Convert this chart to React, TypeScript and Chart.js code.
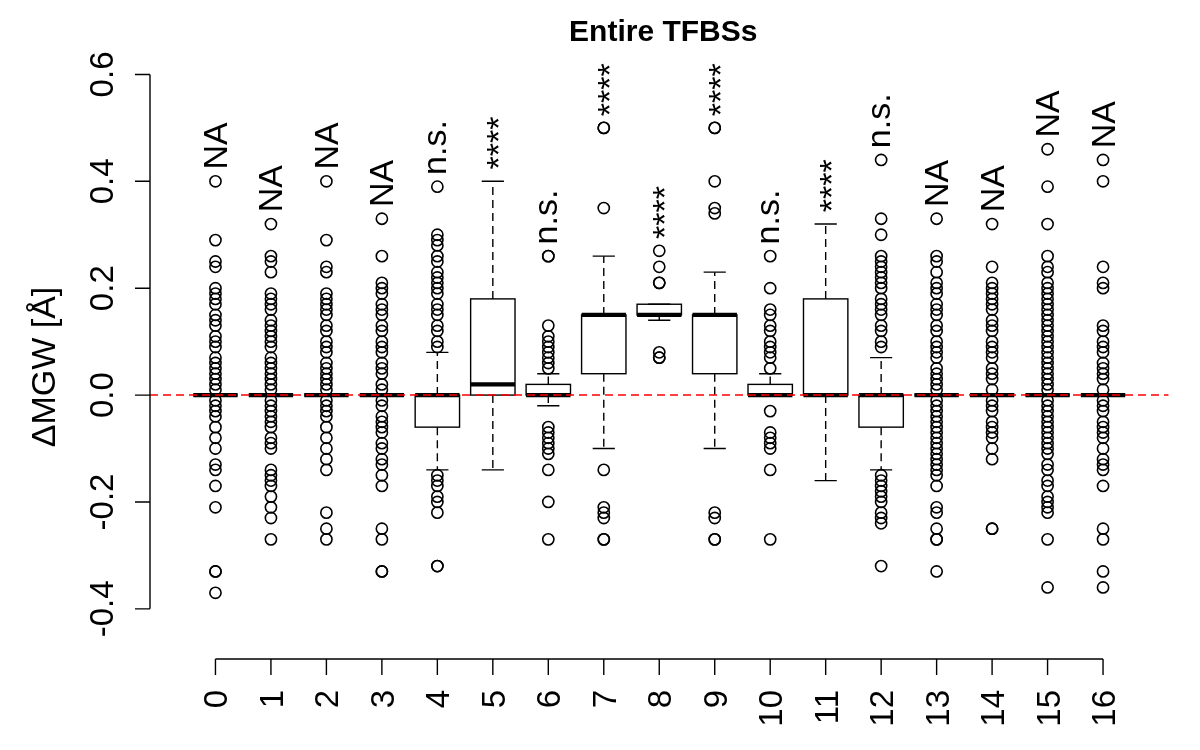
import React, { useEffect, useRef } from "react";
import { Chart, registerables } from "chart.js";

Chart.register(...registerables);

const categories = ["0", "1", "2", "3", "4", "5", "6", "7", "8", "9", "10", "11", "12", "13", "14", "15", "16"];
const sigLabels = ["NA", "NA", "NA", "NA", "n.s.", "****", "n.s.", "****", "****", "****", "n.s.", "****", "n.s.", "NA", "NA", "NA", "NA"];

const q1 = [0, 0, 0, 0, -0.06, 0, 0, 0.04, 0.15, 0.04, 0, 0, -0.06, 0, 0, 0, 0];
const medians = [0, 0, 0, 0, 0, 0.02, 0, 0.15, 0.15, 0.15, 0, 0, 0, 0, 0, 0, 0];
const q3 = [0, 0, 0, 0, 0, 0.18, 0.02, 0.15, 0.17, 0.15, 0.02, 0.18, 0, 0, 0, 0, 0];
const whiskerLow = [0, 0, 0, 0, -0.14, -0.14, -0.02, -0.10, 0.14, -0.10, 0, -0.16, -0.14, 0, 0, 0, 0];
const whiskerHigh = [0, 0, 0, 0, 0.08, 0.40, 0.04, 0.26, 0.17, 0.23, 0.04, 0.32, 0.07, 0, 0, 0, 0];

const out0 = [0.40, 0.29, 0.25, 0.24, 0.20, 0.19, 0.18, 0.17, 0.15, 0.14, 0.13, 0.11, 0.10, 0.09, 0.07, 0.06, 0.05, 0.04, 0.03, 0.02, 0.01, -0.01, -0.02, -0.03, -0.04, -0.06, -0.08, -0.10, -0.13, -0.14, -0.17, -0.21, -0.33, -0.33, -0.37];
const out1 = [0.32, 0.26, 0.25, 0.23, 0.19, 0.18, 0.17, 0.16, 0.14, 0.13, 0.12, 0.11, 0.10, 0.09, 0.07, 0.06, 0.05, 0.04, 0.03, 0.02, 0.01, -0.01, -0.02, -0.03, -0.04, -0.05, -0.06, -0.08, -0.09, -0.10, -0.14, -0.15, -0.16, -0.17, -0.19, -0.21, -0.23, -0.27];
const out2 = [0.40, 0.29, 0.24, 0.23, 0.19, 0.18, 0.17, 0.16, 0.15, 0.13, 0.12, 0.10, 0.09, 0.08, 0.06, 0.05, 0.04, 0.03, 0.02, 0.01, -0.01, -0.02, -0.03, -0.04, -0.06, -0.08, -0.10, -0.12, -0.14, -0.22, -0.25, -0.27];
const out3 = [0.33, 0.26, 0.21, 0.20, 0.19, 0.17, 0.16, 0.15, 0.13, 0.12, 0.10, 0.09, 0.08, 0.06, 0.05, 0.04, 0.02, 0.01, -0.01, -0.02, -0.04, -0.05, -0.06, -0.07, -0.09, -0.10, -0.12, -0.13, -0.15, -0.17, -0.25, -0.27, -0.33, -0.33];
const out4 = [0.39, 0.30, 0.29, 0.28, 0.26, 0.25, 0.23, 0.22, 0.21, 0.20, 0.19, 0.17, 0.16, 0.15, 0.13, 0.12, 0.10, 0.09, -0.15, -0.16, -0.17, -0.19, -0.20, -0.22, -0.32, -0.32];
const out5: number[] = [];
const out6 = [0.26, 0.26, 0.13, 0.11, 0.10, 0.09, 0.08, 0.07, 0.06, 0.05, -0.06, -0.07, -0.08, -0.09, -0.10, -0.11, -0.14, -0.20, -0.27];
const out7 = [0.50, 0.50, 0.35, -0.14, -0.21, -0.22, -0.23, -0.27, -0.27];
const out8 = [0.27, 0.24, 0.21, 0.21, 0.08, 0.07, 0.07];
const out9 = [0.50, 0.50, 0.40, 0.35, 0.34, -0.22, -0.23, -0.27, -0.27];
const out10 = [0.26, 0.20, 0.16, 0.15, 0.13, 0.12, 0.10, 0.09, 0.08, 0.07, 0.05, -0.03, -0.07, -0.08, -0.09, -0.10, -0.14, -0.27];
const out11: number[] = [];
const out12 = [0.44, 0.33, 0.30, 0.26, 0.25, 0.24, 0.23, 0.22, 0.21, 0.20, 0.18, 0.17, 0.16, 0.15, 0.13, 0.12, 0.10, 0.09, -0.15, -0.16, -0.17, -0.18, -0.19, -0.20, -0.22, -0.23, -0.24, -0.32];
const out13 = [0.33, 0.26, 0.25, 0.23, 0.21, 0.20, 0.19, 0.17, 0.16, 0.15, 0.13, 0.12, 0.10, 0.09, 0.08, 0.07, 0.05, 0.04, 0.03, 0.02, 0.01, -0.01, -0.02, -0.03, -0.04, -0.05, -0.06, -0.07, -0.08, -0.09, -0.10, -0.11, -0.12, -0.13, -0.14, -0.15, -0.17, -0.21, -0.22, -0.25, -0.27, -0.27, -0.33];
const out14 = [0.32, 0.24, 0.21, 0.20, 0.19, 0.18, 0.17, 0.16, 0.14, 0.13, 0.12, 0.10, 0.09, 0.08, 0.07, 0.05, 0.04, 0.03, 0.01, -0.01, -0.02, -0.03, -0.05, -0.06, -0.07, -0.08, -0.10, -0.12, -0.25, -0.25];
const out15 = [0.46, 0.39, 0.32, 0.26, 0.24, 0.23, 0.21, 0.20, 0.19, 0.18, 0.17, 0.16, 0.15, 0.14, 0.13, 0.12, 0.11, 0.10, 0.09, 0.08, 0.07, 0.06, 0.05, 0.04, 0.03, 0.02, 0.01, -0.01, -0.02, -0.03, -0.04, -0.05, -0.06, -0.07, -0.08, -0.09, -0.10, -0.11, -0.13, -0.14, -0.16, -0.17, -0.19, -0.20, -0.21, -0.22, -0.27, -0.36];
const out16 = [0.44, 0.40, 0.24, 0.21, 0.20, 0.13, 0.12, 0.10, 0.09, 0.08, 0.06, 0.05, 0.04, 0.03, 0.01, -0.01, -0.02, -0.03, -0.05, -0.06, -0.07, -0.08, -0.10, -0.12, -0.13, -0.14, -0.17, -0.25, -0.27, -0.33, -0.36];

const outliers = [out0, out1, out2, out3, out4, out5, out6, out7, out8, out9, out10, out11, out12, out13, out14, out15, out16];

const yTicks = [0.6, 0.4, 0.2, 0.0, -0.2, -0.4];
const yTickLabels = ["0.6", "0.4", "0.2", "0.0", "-0.2", "-0.4"];

const titleText = "Entire TFBSs";
const yTitle = "ΔMGW [Å]";

const FONT = '"Liberation Sans", Arial, Helvetica, sans-serif';

const boxPlugin = {
  id: "rBoxplot",
  beforeDatasetsDraw(chart: any) {
    const { ctx, scales } = chart;
    const x = scales.x;
    const y = scales.y;
    ctx.save();
    ctx.strokeStyle = "#000";
    for (let i = 0; i < categories.length; i++) {
      const cx = x.getPixelForValue(i);
      const half = x.getPixelForValue(i + 0.4) - cx;
      const cap = x.getPixelForValue(i + 0.2) - cx;
      const yq1 = y.getPixelForValue(q1[i]);
      const yq3 = y.getPixelForValue(q3[i]);
      const ylo = y.getPixelForValue(whiskerLow[i]);
      const yhi = y.getPixelForValue(whiskerHigh[i]);
      const ymed = y.getPixelForValue(medians[i]);
      ctx.lineWidth = 1.4;
      ctx.setLineDash([8, 5]);
      ctx.beginPath();
      ctx.moveTo(cx, yq3);
      ctx.lineTo(cx, yhi);
      ctx.moveTo(cx, yq1);
      ctx.lineTo(cx, ylo);
      ctx.stroke();
      ctx.setLineDash([]);
      ctx.beginPath();
      ctx.moveTo(cx - cap, yhi);
      ctx.lineTo(cx + cap, yhi);
      ctx.moveTo(cx - cap, ylo);
      ctx.lineTo(cx + cap, ylo);
      ctx.stroke();
      ctx.strokeRect(cx - half, yq3, 2 * half, yq1 - yq3);
      ctx.lineWidth = 4.2;
      ctx.lineCap = "butt";
      ctx.beginPath();
      ctx.moveTo(cx - half, ymed);
      ctx.lineTo(cx + half, ymed);
      ctx.stroke();
    }
    ctx.restore();
  },
  afterDatasetsDraw(chart: any) {
    const { ctx, scales, chartArea } = chart;
    const x = scales.x;
    const y = scales.y;
    ctx.save();
    const y0 = y.getPixelForValue(0);
    ctx.strokeStyle = "#ff0000";
    ctx.lineWidth = 1.5;
    ctx.setLineDash([8, 5]);
    ctx.beginPath();
    ctx.moveTo(chartArea.left, y0);
    ctx.lineTo(chartArea.right, y0);
    ctx.stroke();
    ctx.setLineDash([]);

    ctx.fillStyle = "#000";
    ctx.font = `34px ${FONT}`;
    for (let i = 0; i < categories.length; i++) {
      const vals = [whiskerHigh[i], q3[i], ...outliers[i]];
      const top = Math.max(...vals);
      const cx = x.getPixelForValue(i);
      const py = y.getPixelForValue(top + 0.022);
      const m = ctx.measureText(sigLabels[i]);
      const off = (m.actualBoundingBoxAscent - m.actualBoundingBoxDescent) / 2;
      ctx.save();
      ctx.translate(cx + off, py);
      ctx.rotate(-Math.PI / 2);
      ctx.textAlign = "left";
      ctx.textBaseline = "alphabetic";
      ctx.fillText(sigLabels[i], 0, 0);
      ctx.restore();
    }
    ctx.restore();
  },
  afterDraw(chart: any) {
    const { ctx, scales, chartArea } = chart;
    const x = scales.x;
    const y = scales.y;
    ctx.save();
    ctx.strokeStyle = "#000";
    ctx.fillStyle = "#000";
    ctx.lineWidth = 1.4;
    const ax = chartArea.left;
    ctx.beginPath();
    ctx.moveTo(ax, y.getPixelForValue(yTicks[0]));
    ctx.lineTo(ax, y.getPixelForValue(yTicks[yTicks.length - 1]));
    for (const v of yTicks) {
      const py = y.getPixelForValue(v);
      ctx.moveTo(ax, py);
      ctx.lineTo(ax - 15, py);
    }
    ctx.stroke();
    ctx.font = `33px ${FONT}`;
    yTicks.forEach((v, k) => {
      const py = y.getPixelForValue(v);
      ctx.save();
      ctx.translate(ax - 37, py);
      ctx.rotate(-Math.PI / 2);
      ctx.textAlign = "center";
      ctx.textBaseline = "alphabetic";
      ctx.fillText(yTickLabels[k], 0, 0);
      ctx.restore();
    });
    const ay = chartArea.bottom + 1;
    ctx.beginPath();
    ctx.moveTo(x.getPixelForValue(0), ay);
    ctx.lineTo(x.getPixelForValue(categories.length - 1), ay);
    for (let i = 0; i < categories.length; i++) {
      const px = x.getPixelForValue(i);
      ctx.moveTo(px, ay);
      ctx.lineTo(px, ay + 16);
    }
    ctx.stroke();
    ctx.font = `33px ${FONT}`;
    for (let i = 0; i < categories.length; i++) {
      const px = x.getPixelForValue(i);
      ctx.save();
      ctx.translate(px + 12, ay + 31);
      ctx.rotate(-Math.PI / 2);
      ctx.textAlign = "right";
      ctx.textBaseline = "alphabetic";
      ctx.fillText(categories[i], 0, 0);
      ctx.restore();
    }
    ctx.font = `34px ${FONT}`;
    ctx.save();
    ctx.translate(55, (chartArea.top + chartArea.bottom) / 2 + 12);
    ctx.rotate(-Math.PI / 2);
    ctx.textAlign = "center";
    ctx.textBaseline = "alphabetic";
    ctx.fillText(yTitle, 0, 0);
    ctx.restore();
    ctx.font = `bold 30px ${FONT}`;
    ctx.textAlign = "center";
    ctx.textBaseline = "alphabetic";
    ctx.fillText(titleText, (chartArea.left + chartArea.right) / 2 + 4, 41);
    ctx.restore();
  },
};

export default function App() {
  const ref = useRef<HTMLCanvasElement | null>(null);
  useEffect(() => {
    document.body.style.margin = "0";
    const canvas = ref.current;
    if (!canvas) return;
    const points: { x: number; y: number }[] = [];
    outliers.forEach((arr, i) => arr.forEach((v) => points.push({ x: i, y: v })));
    const chart = new Chart(canvas, {
      type: "scatter",
      data: {
        datasets: [
          {
            label: "outliers",
            data: points,
            pointStyle: "circle",
            pointRadius: 5.6,
            pointHoverRadius: 5.6,
            borderColor: "#000",
            borderWidth: 1.6,
            backgroundColor: "rgba(0,0,0,0)",
          },
        ],
      },
      options: {
        responsive: false,
        animation: false,
        devicePixelRatio: 1,
        events: [],
        layout: { padding: { left: 150, right: 31.5, top: 52, bottom: 92 } },
        plugins: { legend: { display: false }, tooltip: { enabled: false }, title: { display: false } },
        scales: {
          x: { type: "linear", display: false, min: -1.18, max: 17.18 },
          y: { type: "linear", display: false, min: -0.492, max: 0.642 },
        },
      },
      plugins: [boxPlugin],
    });
    return () => chart.destroy();
  }, []);
  return (
    <div style={{ width: 1200, height: 750, background: "#fff" }}>
      <canvas ref={ref} width={1200} height={750} style={{ display: "block" }} />
    </div>
  );
}
